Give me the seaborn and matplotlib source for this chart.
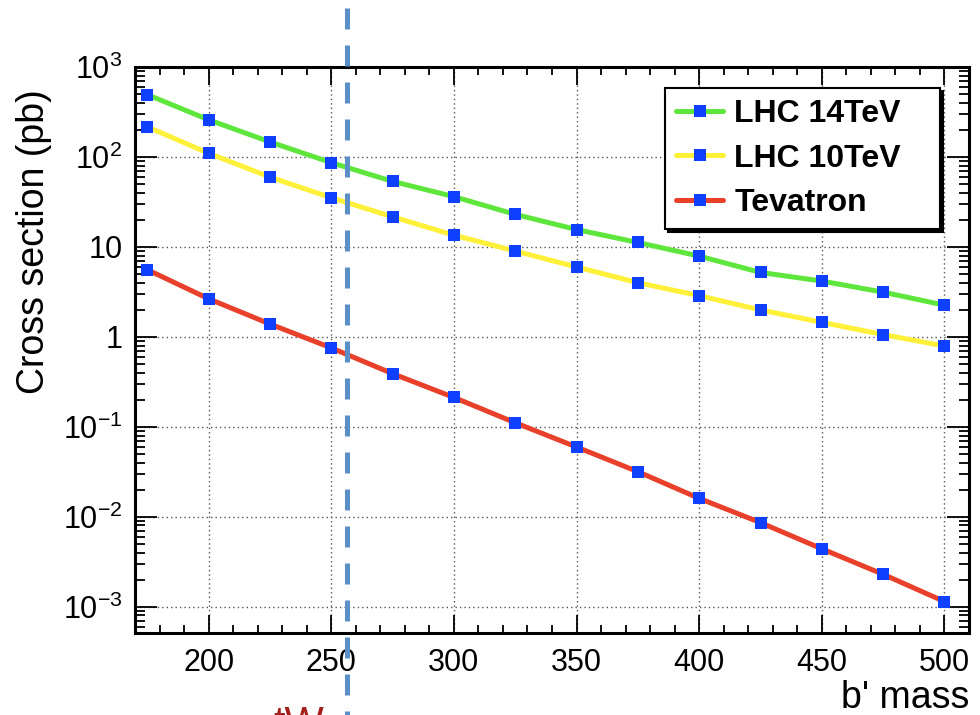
import numpy as np
import pandas as pd
import matplotlib
matplotlib.use("Agg")
import matplotlib.pyplot as plt
import seaborn as sns
from matplotlib.lines import Line2D
from matplotlib.ticker import FixedLocator, FixedFormatter, MultipleLocator, LogLocator, NullFormatter

# ---- data ----
mass = [175, 200, 225, 250, 275, 300, 325, 350, 375, 400, 425, 450, 475, 500]
lhc14 = [493, 259, 147, 86.5, 53.5, 36.2, 23.0, 15.6, 11.2, 7.9, 5.2, 4.17, 3.14, 2.25]
lhc10 = [216, 110, 59.8, 35.2, 21.6, 13.5, 9.0, 5.98, 4.0, 2.87, 1.99, 1.45, 1.06, 0.79]
tevatron = [5.58, 2.65, 1.39, 0.754, 0.39, 0.212, 0.111, 0.0596, 0.0317, 0.016, 0.0086, 0.0044, 0.00229, 0.00114]
series_names = ["LHC 14TeV", "LHC 10TeV", "Tevatron"]
series_colors = ["#5fe63c", "#fff03a", "#e8402a"]
ytick_vals = [1e-3, 1e-2, 1e-1, 1, 10, 100, 1000]
ytick_labels = [r"$10^{-3}$", r"$10^{-2}$", r"$10^{-1}$", "1", "10", r"$10^{2}$", r"$10^{3}$"]
xtick_vals = [200, 250, 300, 350, 400, 450, 500]
threshold_x = 256.5

df = pd.concat([
    pd.DataFrame({"mass": mass, "xsec": vals, "series": name})
    for name, vals in zip(series_names, [lhc14, lhc10, tevatron])
], ignore_index=True)

sns.set_style("ticks")
plt.rcParams["font.family"] = ["Liberation Sans", "DejaVu Sans"]
plt.rcParams["mathtext.fontset"] = "custom"
plt.rcParams["mathtext.rm"] = "Liberation Sans"
plt.rcParams["mathtext.it"] = "Liberation Sans"
for k in ["text.color", "axes.labelcolor", "xtick.color", "ytick.color",
          "xtick.labelcolor", "ytick.labelcolor"]:
    plt.rcParams[k] = "black"

fig = plt.figure(figsize=(9.8, 7.15), dpi=100)
ax = fig.add_axes([135/980, (715-633)/715, (969-135)/980, (633-67)/715])

marker_blue = "#1040ff"
sns.lineplot(data=df, x="mass", y="xsec", hue="series", hue_order=series_names,
             palette=series_colors, marker="s", markersize=9,
             markerfacecolor=marker_blue, markeredgecolor=marker_blue,
             markeredgewidth=0, linewidth=3.6, legend=False, ax=ax, zorder=3)

ax.set_yscale("log")
ax.set_xlim(170, 510)
ax.set_ylim(5.1e-4, 1000)

ax.xaxis.set_major_locator(FixedLocator(xtick_vals))
ax.xaxis.set_minor_locator(MultipleLocator(10))
ax.yaxis.set_major_locator(FixedLocator(ytick_vals))
ax.yaxis.set_major_formatter(FixedFormatter(ytick_labels))
ax.yaxis.set_minor_locator(LogLocator(base=10, subs=np.arange(2, 10), numticks=20))
ax.yaxis.set_minor_formatter(NullFormatter())

ax.tick_params(axis="both", which="both", direction="in", top=True, right=True,
               width=1.3, color="black", labelcolor="black")
ax.tick_params(axis="x", which="major", length=13, labelsize=22, pad=11)
ax.tick_params(axis="x", which="minor", length=6)
ax.tick_params(axis="y", which="major", length=16, labelsize=22, pad=9)
ax.tick_params(axis="y", which="minor", length=7)

for s in ax.spines.values():
    s.set_visible(True)
    s.set_linewidth(2.2)
    s.set_color("black")

ax.grid(True, which="major", axis="both", linestyle=(0, (1, 2.2)),
        color="#555555", linewidth=1.0)
ax.set_axisbelow(True)

ax.set_xlabel("b' mass", fontsize=27, loc="right", color="black")
ax.xaxis.set_label_coords(1.0, -0.083)
ax.set_ylabel("Cross section (pb)", fontsize=27, loc="top", color="black")
ax.yaxis.set_label_coords(-0.0995, 0.96)

handles = [Line2D([], [], color=c, linewidth=3.6, marker="s", markersize=9,
                  markerfacecolor=marker_blue, markeredgecolor=marker_blue,
                  markeredgewidth=0) for c in series_colors]
x0 = (665-135)/834
w = (940-665)/834
ytop = (633-88)/566
leg = ax.legend(handles, series_names, loc="upper left",
                bbox_to_anchor=(x0, ytop - 0.3, w, 0.3), mode="expand",
                borderaxespad=0,
                prop={"size": 23, "weight": "bold"}, frameon=True,
                fancybox=False, shadow={"color": "black", "alpha": 1},
                handlelength=1.47, handletextpad=0.35, borderpad=0.35,
                labelspacing=0.45)
leg.get_frame().set_edgecolor("black")
leg.get_frame().set_linewidth(1.5)
leg.get_frame().set_facecolor("white")
leg.get_frame().set_alpha(1)

# threshold dashed line extending beyond axes
ax.axvline(threshold_x, ymin=(633-8)/566, ymax=(633-720)/566, clip_on=False,
           color="#5b8fc8", linewidth=3.6, dashes=(4.2, 3.2), zorder=5)

fig.text(273/980, (715-736)/715, "tW", fontsize=30, color="#a3201c",
         ha="left", va="baseline")

fig.savefig("out.png", dpi=100)
